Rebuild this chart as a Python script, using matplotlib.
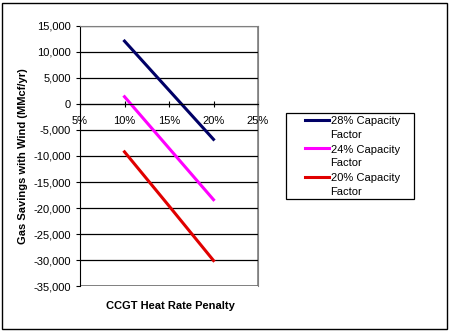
import numpy as np
import matplotlib.pyplot as plt
from matplotlib.patches import Rectangle
from matplotlib.ticker import FuncFormatter

plt.rcParams['font.family'] = ['Liberation Sans', 'DejaVu Sans']

penalty = [0.10, 0.15, 0.20]
cf28 = [12100, 2650, -6800]
cf24 = [1400, -8500, -18400]
cf20 = [-9200, -19600, -30100]

series = [
    (cf28, '#000066', '28% Capacity\nFactor'),
    (cf24, '#FF00FF', '24% Capacity\nFactor'),
    (cf20, '#E00000', '20% Capacity\nFactor'),
]

fig = plt.figure(figsize=(4.5, 3.31), dpi=100)
ax = fig.add_axes([80/450, 1 - 286/331, (258-80)/450, (286-26)/331])

for vals, col, lab in series:
    ax.plot(penalty, vals, color=col, lw=2.2, label=lab)

ax.set_xlim(0.05, 0.25)
ax.set_ylim(-35000, 15000)
ax.set_xticks([0.05, 0.10, 0.15, 0.20, 0.25])
ax.set_yticks(np.arange(-35000, 15001, 5000))
ax.xaxis.set_major_formatter(FuncFormatter(lambda v, p: f'{v*100:.0f}%'))
ax.yaxis.set_major_formatter(FuncFormatter(lambda v, p: f'{v:,.0f}'))
ax.grid(axis='y', color='black', lw=0.9)
ax.set_axisbelow(True)

ax.spines['bottom'].set_position(('data', 0))
ax.spines['bottom'].set_color('black')
ax.spines['left'].set_color('black')
ax.spines['top'].set_color('#808080')
ax.spines['right'].set_color('#808080')
ax.tick_params(axis='both', labelsize=8, length=3, color='black')
ax.tick_params(axis='x', direction='inout', length=5, pad=6)

# gray frame around plot area
ax.add_patch(Rectangle((0, 0), 1, 1, transform=ax.transAxes, fill=False,
                       edgecolor='#808080', lw=1.2, zorder=0.5))

ax.set_ylabel('Gas Savings with Wind (MMcf/yr)', fontsize=8, fontweight='bold', labelpad=4)
fig.text(170/450, 1 - 306/331, 'CCGT Heat Rate Penalty', ha='center', va='center',
         fontsize=8, fontweight='bold')

# legend without its own frame, box drawn separately
leg = fig.legend(loc='upper left', bbox_to_anchor=(305/450, 1 - 116/331),
                 fontsize=8, frameon=False, handlelength=2.2,
                 borderpad=0, labelspacing=0.45, handletextpad=0.1,
                 borderaxespad=0)
for t in leg.get_texts():
    t.set_linespacing(1.45)
# line sits next to the first text line, not in the middle
for h in leg.legend_handles:
    h.set_ydata(np.asarray(h.get_ydata()) + 6)
fig.patches.append(Rectangle((286/450, 1 - 199/331), 128/450, 86/331,
                             transform=fig.transFigure, fill=False,
                             edgecolor='black', lw=0.9))

fig.patches.append(Rectangle((2/450, 2/331), 445/450, 326/331, transform=fig.transFigure,
                             fill=False, edgecolor='black', lw=1))

fig.savefig('out.png', dpi=100)
